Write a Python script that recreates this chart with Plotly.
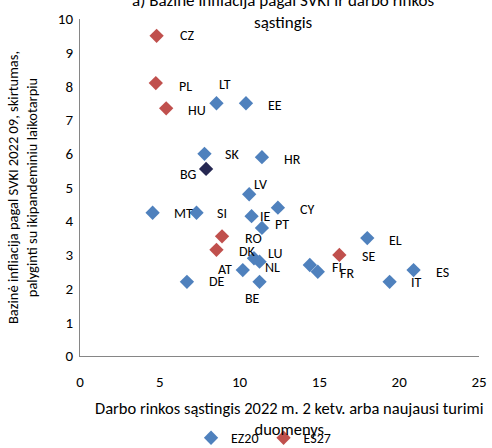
import plotly.graph_objects as go

# country data: labour market slack (x) vs core HICP inflation gap (y)
ez_countries = ["LT", "EE", "SK", "HR", "LV", "CY", "MT", "SI", "IE", "PT",
                "LU", "NL", "AT", "DE", "BE", "FI", "FR", "EL", "ES", "IT"]
ez_slack = [8.55, 10.4, 7.8, 11.4, 10.6, 12.4, 4.55, 7.3, 10.75, 11.4,
            10.9, 11.25, 10.2, 6.7, 11.25, 14.4, 14.9, 18.0, 20.9, 19.4]
ez_infl = [7.5, 7.5, 6.0, 5.9, 4.8, 4.4, 4.25, 4.25, 4.15, 3.8,
           2.9, 2.8, 2.55, 2.2, 2.2, 2.7, 2.5, 3.5, 2.55, 2.2]

eu_countries = ["CZ", "PL", "HU", "RO", "DK", "SE"]
eu_slack = [4.8, 4.75, 5.4, 8.9, 8.55, 16.25]
eu_infl = [9.5, 8.1, 7.35, 3.55, 3.15, 3.0]

bg_country = ["BG"]
bg_slack = [7.9]
bg_infl = [5.55]

x_ticks = [0, 5, 10, 15, 20, 25]
y_ticks = list(range(0, 11))

# label offsets in px (dx right, dy up)
label_shift = {
    "CZ": (30, 0), "PL": (30, -3), "HU": (31, -2), "LT": (9, 19), "EE": (29, -2),
    "SK": (28, -1), "HR": (31, -2), "BG": (-18, -6), "LV": (11, 10), "CY": (29, -2),
    "MT": (31, -1), "SI": (25, -1), "IE": (14, 0), "PT": (20, 3), "RO": (31, -2),
    "DK": (31, -2), "LU": (22, 5), "NL": (13, -6), "AT": (-18, 1), "DE": (30, 0),
    "BE": (-7, -17), "FI": (27, -2), "FR": (29, -2), "SE": (29, -2), "EL": (28, -2),
    "ES": (29, -2), "IT": (27, -1),
}

font = "Calibri, Carlito, Lato, sans-serif"
blue = "#4F81BD"
red = "#C0504D"
navy = "#262852"

fig = go.Figure()
fig.add_trace(go.Scatter(x=ez_slack, y=ez_infl, mode="markers", name="EZ20",
                         marker=dict(symbol="diamond", size=11, color=blue)))
fig.add_trace(go.Scatter(x=eu_slack, y=eu_infl, mode="markers", name="ES27",
                         marker=dict(symbol="diamond", size=11, color=red)))
fig.add_trace(go.Scatter(x=bg_slack, y=bg_infl, mode="markers", name="BG",
                         showlegend=False,
                         marker=dict(symbol="diamond", size=11, color=navy)))

for names, xs, ys in [(ez_countries, ez_slack, ez_infl),
                      (eu_countries, eu_slack, eu_infl),
                      (bg_country, bg_slack, bg_infl)]:
    for n, xv, yv in zip(names, xs, ys):
        dx, dy = label_shift[n]
        fig.add_annotation(x=xv, y=yv, text=n, showarrow=False,
                           xshift=dx, yshift=dy,
                           font=dict(family=font, size=14, color="#000000"))

# chart title (top line runs off the canvas, as in the source)
fig.add_annotation(xref="paper", yref="paper", x=0.51, y=1, yshift=8,
                   yanchor="middle", showarrow=False,
                   text="a) Bazinė infliacija pagal SVKI ir darbo rinkos<br>sąstingis",
                   font=dict(family=font, size=17, color="#000000"))

# x axis title
fig.add_annotation(xref="paper", yref="paper", x=0.526, y=0, yshift=-62,
                   yanchor="middle", showarrow=False,
                   text="Darbo rinkos sąstingis 2022 m. 2 ketv. arba naujausi turimi<br>duomenys",
                   font=dict(family=font, size=16.5, color="#000000"))

fig.update_layout(
    width=492, height=448,
    margin=dict(l=80, r=13, t=19, b=92, autoexpand=False),
    plot_bgcolor="white", paper_bgcolor="white",
    font=dict(family=font, size=13, color="#000000"),
    showlegend=True,
    legend=dict(orientation="h", x=0.46, xanchor="center",
                yref="container", y=0.022, yanchor="middle",
                font=dict(size=14), itemwidth=30, tracegroupgap=0),
    xaxis=dict(range=[0, 25], tickvals=x_ticks, showgrid=False, zeroline=False,
               showline=True, linecolor="#868686", ticks="", tickfont=dict(size=15),
               ticklabelstandoff=12, automargin=False),
    yaxis=dict(range=[0, 10], tickvals=y_ticks, showgrid=False, zeroline=False,
               showline=True, linecolor="#868686", ticks="", tickfont=dict(size=15),
               ticklabelstandoff=3, automargin=False,
               title=dict(text="Bazinė infliacija pagal SVKI 2022 09, skirtumas,<br>palyginti su ikipandeminiu laikotarpiu",
                          font=dict(size=14.5), standoff=16)),
)

# drop the default page margin so the figure sits at the window's corner
fig.write_html("out.html", config={"displayModeBar": False},
               post_script="document.body.style.margin='0';")
